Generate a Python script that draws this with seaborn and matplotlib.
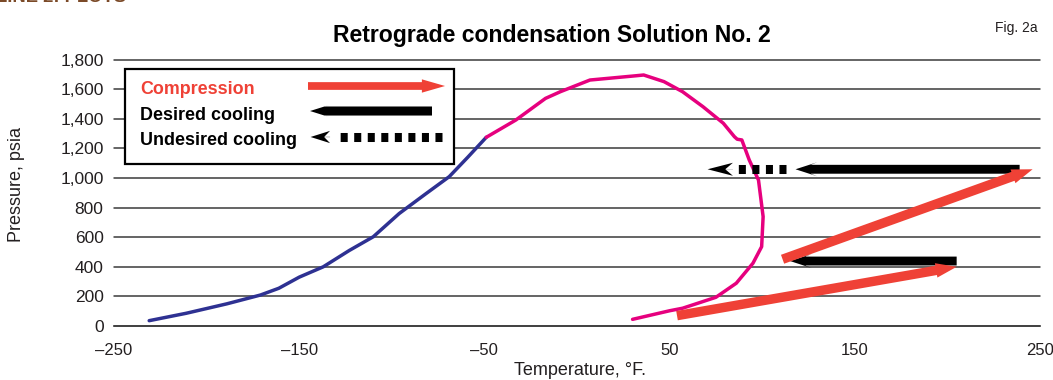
import matplotlib
matplotlib.use("Agg")
import numpy as np
import pandas as pd
import matplotlib.pyplot as plt
from matplotlib import font_manager as fm
from matplotlib.patches import Rectangle
import seaborn as sns

# ---- data -----------------------------------------------------------------
# Left (bubble-point) branch of the phase envelope
bubble_temp = [-231, -211, -189, -171, -161, -150, -137, -123, -110, -96, -82, -69, -59, -49]
bubble_pres = [36, 86, 150, 209, 255, 330, 400, 510, 603, 760, 890, 1009, 1140, 1275]

# Dew-point branch through the cricondenbar and the retrograde region
dew_temp = [-49, -33, -17, -9, 7, 32, 36, 47, 57, 68, 79, 85, 86.5, 89, 93, 98,
            100.5, 99.7, 95, 86, 75, 57, 50, 30]
dew_pres = [1275, 1392, 1538, 1583, 1662, 1691, 1696, 1651, 1583, 1482, 1370, 1279,
            1262, 1257, 1122, 986, 739, 536, 424, 289, 194, 120, 103, 45]

# Process steps: compression stages (start -> end)
compression_from_temp = [54, 111]
compression_from_pres = [70, 451]
compression_to_temp = [205, 246]
compression_to_pres = [400, 1059]

# Desired cooling after each stage (horizontal, constant pressure)
desired_from_temp = [205, 239]
desired_to_temp = [115, 118]
desired_pres = [439, 1059]

# Undesired cooling into the two-phase region
undesired_from_temp = [113]
undesired_to_temp = [70.5]
undesired_pres = [1059]

x_ticks = [-250, -150, -50, 50, 150, 250]
x_tick_labels = ["\u2013250", "\u2013150", "\u201350", "50", "150", "250"]
y_ticks = list(range(0, 1801, 200))
y_tick_labels = [f"{v:,}" for v in y_ticks]

legend_labels = ["Compression", "Desired cooling", "Undesired cooling"]

# ---- style ------------------------------------------------------------------
NAVY = "#2e3192"
MAGENTA = "#e6007e"
RED = "#ef4136"
BLACK = "#000000"
GRID = "#3a3a3a"
BROWN = "#7b4a28"

sns.set_theme(style="white")


def pick_font(*names):
    for name in names:
        try:
            fm.findfont(fm.FontProperties(family=name), fallback_to_default=False)
            return name
        except Exception:
            pass
    return "DejaVu Sans"


SANS = pick_font("Liberation Sans", "Arial", "DejaVu Sans")
NARROW = pick_font("Liberation Sans Narrow", "Arial Narrow")
narrow_ok = NARROW in ("Liberation Sans Narrow", "Arial Narrow")
if not narrow_ok:
    NARROW = SANS
nscale = 1.0 if narrow_ok else 0.83

plt.rcParams["font.family"] = [SANS, "DejaVu Sans"]

fig = plt.figure(figsize=(10.53, 3.8), dpi=100)
ax = fig.add_axes([114 / 1053, 54 / 380, 926 / 1053, 266.4 / 380])

# ---- phase envelope ---------------------------------------------------------
env = pd.concat([
    pd.DataFrame({"T": bubble_temp, "P": bubble_pres, "branch": "bubble"}),
    pd.DataFrame({"T": dew_temp, "P": dew_pres, "branch": "dew"}),
], ignore_index=True)
sns.lineplot(data=env, x="T", y="P", hue="branch",
             palette={"bubble": NAVY, "dew": MAGENTA},
             sort=False, estimator=None, lw=2.5, legend=False, ax=ax, zorder=3)
for ln in ax.get_lines():
    ln.set_solid_joinstyle("round")
    ln.set_solid_capstyle("round")

# ---- axes -------------------------------------------------------------------
ax.set_xlim(-250, 250)
ax.set_ylim(0, 1800)
ax.set_xticks(x_ticks)
ax.set_xticklabels(x_tick_labels)
ax.set_yticks(y_ticks)
ax.set_yticklabels(y_tick_labels)
ax.tick_params(axis="x", direction="in", length=12, width=1.0, color=GRID,
               pad=12, labelsize=12, labelcolor="#231f20")
ax.tick_params(axis="y", length=0, pad=7.5, labelsize=12.5, labelcolor="#231f20")
ax.yaxis.grid(True, color=GRID, lw=1.1)
ax.xaxis.grid(False)
for gl in ax.yaxis.get_gridlines():
    gl.set_clip_on(False)
for side in ("left", "right", "top"):
    ax.spines[side].set_visible(False)
ax.spines["bottom"].set_color(GRID)
ax.spines["bottom"].set_linewidth(1.1)
ax.set_axisbelow(True)

ax.set_xlabel("Temperature, \u00b0F.", fontsize=13, color="#231f20")
ax.xaxis.set_label_coords(0.503, -0.1336)
ax.set_ylabel("Pressure, psia", fontsize=13, color="#231f20")
ax.yaxis.set_label_coords(-0.096, 0.53)

# ---- process arrows ---------------------------------------------------------
# desired cooling: solid black, swept-back heads
for t0, t1, p in zip(desired_from_temp, desired_to_temp, desired_pres):
    ax.arrow(t0, p, t1 - t0, 0, width=60, head_width=95, head_length=11.7,
             overhang=0.3, length_includes_head=True, fc=BLACK, ec="none",
             lw=0, zorder=5)

# undesired cooling: square dots ending in a head
for t0, t1, p in zip(undesired_from_temp, undesired_to_temp, undesired_pres):
    head_len = 13.7
    ax.plot([t0, t1 + head_len + 2], [p, p], color=BLACK, lw=6.5,
            dashes=(0.78, 0.72), dash_capstyle="butt", solid_capstyle="butt",
            zorder=5)
    ax.arrow(t1 + head_len, p, -head_len, 0, width=1, head_width=88,
             head_length=head_len, overhang=0.3, length_includes_head=True,
             fc=BLACK, ec="none", lw=0, zorder=5)

# compression stages: thick red arrows
for t0, p0, t1, p1 in zip(compression_from_temp, compression_from_pres,
                          compression_to_temp, compression_to_pres):
    ax.annotate("", xy=(t1, p1), xytext=(t0, p0), xycoords="data",
                arrowprops=dict(arrowstyle="simple,head_length=15,head_width=10.5,tail_width=6.8",
                                mutation_scale=1, fc=RED, ec="none", lw=0,
                                shrinkA=0, shrinkB=0),
                zorder=6)

# ---- legend box -------------------------------------------------------------
tr = ax.transAxes
ax.add_patch(Rectangle((0.0119, 0.6081), 0.3553, 0.3566, transform=tr,
                       fc="white", ec=BLACK, lw=1.6, zorder=7, clip_on=False))
legend_y = [0.869, 0.7733, 0.6776]
legend_colors = [RED, BLACK, BLACK]
for lab, yy, col in zip(legend_labels, legend_y, legend_colors):
    ax.text(0.0281, yy, lab, transform=tr, color=col, fontsize=15.5 * nscale,
            family=[NARROW, "DejaVu Sans"], fontweight="bold", va="baseline",
            ha="left", zorder=8)

# legend samples
ax.arrow(0.2095, 0.9009, 0.148, 0, width=0.029, head_width=0.05,
         head_length=0.025, length_includes_head=True, fc=RED, ec="none",
         lw=0, transform=tr, zorder=8, clip_on=False)
ax.arrow(0.3434, 0.8070, -0.1317, 0, width=0.034, head_width=0.048,
         head_length=0.022, overhang=0.3, length_includes_head=True, fc=BLACK,
         ec="none", lw=0, transform=tr, zorder=8, clip_on=False)
ax.plot([0.3538, 0.2445], [0.7095, 0.7095], transform=tr, color=BLACK, lw=6.5,
        dashes=(0.78, 0.72), dash_capstyle="butt", zorder=8, clip_on=False)
ax.arrow(0.2333, 0.7095, -0.021, 0, width=0.001, head_width=0.046,
         head_length=0.021, overhang=0.3, length_includes_head=True, fc=BLACK,
         ec="none", lw=0, transform=tr, zorder=8, clip_on=False)

# ---- titles -----------------------------------------------------------------
fig.text(0.5242, 0.8903, "Retrograde condensation Solution No. 2",
         fontsize=20 * nscale, fontweight="bold", family=[NARROW, "DejaVu Sans"],
         ha="center", va="baseline", color=BLACK)
fig.text(0.9858, 0.915, "Fig. 2a", fontsize=12 * nscale,
         family=[NARROW, "DejaVu Sans"], ha="right", va="baseline", color="#231f20")
# running header of the page, trimmed by the top edge
fig.text(-0.004, 0.9936, "LINE 2: PLOTS", fontsize=16 * nscale, fontweight="bold",
         family=[NARROW, "DejaVu Sans"], ha="left", va="baseline", color=BROWN)

fig.savefig("out.png", dpi=100)
